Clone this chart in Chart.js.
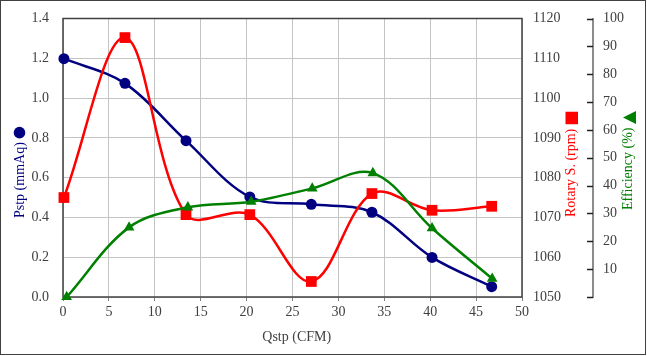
<!DOCTYPE html>
<html>
<head>
<meta charset="utf-8">
<script src="https://cdn.jsdelivr.net/npm/chart.js@4/dist/chart.umd.min.js"></script>
<style>
  html, body { margin: 0; padding: 0; background: #fff; }
  #wrap { position: relative; width: 647px; height: 356px; }
</style>
</head>
<body>
<div id="wrap"><canvas id="c"></canvas></div>
<script>
// ---- data ----
const qstp     = [0.1, 6.75, 13.4, 20.35, 27.05, 33.65, 40.2, 46.7];      // CFM (Pstp & rpm series)
const pstp     = [1.198, 1.074, 0.786, 0.503, 0.466, 0.426, 0.199, 0.052]; // mmAq
const rpm      = [1075.0, 1115.2, 1070.7, 1070.7, 1053.9, 1076.0, 1071.8, 1072.8];
const effQstp  = [0.4, 7.2, 13.6, 20.5, 27.15, 33.75, 40.2, 46.75];      // CFM (efficiency series)
const eff      = [0.0, 25.0, 32.2, 34.2, 39.0, 44.5, 24.7, 6.6];          // %
const xTicks   = [0, 50, 5];          // min, max, step
const pTicks   = [0, 1.4, 0.2];
const rpmTicks = [1050, 1120, 10];
const effTicks = [0, 100, 10];

const FONT = '"Liberation Serif", "Times New Roman", serif';
const TXT = '#404040';
const GRID = '#c4c4c4';
const NONE = 'rgba(0,0,0,0)';

const pts = (xs, ys) => xs.map((x, i) => ({ x: x, y: ys[i] }));

const decor = {
  id: 'decor',
  beforeDatasetsDraw(chart) {
    const { ctx, chartArea: a } = chart;
    ctx.save();
    ctx.strokeStyle = '#404040';
    ctx.lineWidth = 1.5;
    ctx.strokeRect(a.left, a.top, a.right - a.left, a.bottom - a.top);
    ctx.restore();
  },
  afterDraw(chart) {
    const ctx = chart.ctx;
    ctx.save();
    // outer border
    ctx.strokeStyle = '#404040';
    ctx.lineWidth = 1;
    ctx.strokeRect(0.5, 0.5, 645, 354);

    // efficiency axis tick marks (pointing left of its axis line)
    const se = chart.scales.yEff;
    ctx.strokeStyle = '#202020';
    ctx.lineWidth = 1.5;
    se.ticks.forEach(t => {
      const y = Math.round(se.getPixelForValue(t.value)) + 0.5;
      ctx.beginPath();
      ctx.moveTo(se.left - 6, y);
      ctx.lineTo(se.left, y);
      ctx.stroke();
    });

    ctx.font = '14px ' + FONT;
    ctx.textAlign = 'left';
    ctx.textBaseline = 'alphabetic';

    function vtitle(text, bx, by, color) {
      ctx.save();
      ctx.translate(bx, by);
      ctx.rotate(-Math.PI / 2);
      ctx.fillStyle = color;
      ctx.fillText(text, 0, 0);
      const w = ctx.measureText(text).width;
      ctx.restore();
      return w;
    }
    // Pstp title + circle symbol
    const w1 = vtitle('Pstp (mmAq)', 24, 218, '#000080');
    ctx.fillStyle = '#000080';
    ctx.beginPath();
    ctx.arc(19.5, 218 - w1 - 4 - 5.5, 5.8, 0, Math.PI * 2);
    ctx.fill();

    // Rotary S. title + square symbol
    const w2 = vtitle('Rotary S. (rpm)', 575, 217, '#ff0000');
    ctx.fillStyle = '#ff0000';
    const sqc = 217 - w2 - 5 - 6;
    ctx.fillRect(565.5, sqc - 6, 12.5, 12.5);

    // Efficiency title + triangle symbol (rotated with the text)
    const w3 = vtitle('Efficiency (%)', 631.5, 210, '#008000');
    ctx.fillStyle = '#008000';
    const tc = 210 - w3 - 4 - 6;
    ctx.beginPath();
    ctx.moveTo(623, tc);
    ctx.lineTo(636, tc - 6.5);
    ctx.lineTo(636, tc + 6.5);
    ctx.closePath();
    ctx.fill();

    // x title
    ctx.fillStyle = TXT;
    ctx.textAlign = 'center';
    ctx.fillText('Qstp (CFM)', 296.7, 341);
    ctx.restore();
  }
};

const common = { borderWidth: 2.5, tension: 0.35, fill: false, clip: false };

new Chart(document.getElementById('c'), {
  type: 'line',
  data: {
    datasets: [
      Object.assign({
        label: 'Efficiency',
        data: pts(effQstp, eff),
        yAxisID: 'yEff',
        borderColor: '#008000', backgroundColor: '#008000',
        pointStyle: 'triangle', pointRadius: 6.2, pointBorderWidth: 0,
        order: 0
      }, common),
      Object.assign({
        label: 'Rotary S.',
        data: pts(qstp, rpm),
        yAxisID: 'yRpm',
        borderColor: '#ff0000', backgroundColor: '#ff0000',
        pointStyle: 'rect', pointRadius: 7.6, pointBorderWidth: 0,
        order: 1
      }, common),
      Object.assign({
        label: 'Pstp',
        data: pts(qstp, pstp),
        yAxisID: 'y',
        borderColor: '#000080', backgroundColor: '#000080',
        pointStyle: 'circle', pointRadius: 5.5, pointBorderWidth: 0,
        order: 2
      }, common)
    ]
  },
  options: {
    responsive: true,
    maintainAspectRatio: false,
    animation: false,
    events: [],
    layout: { padding: { top: 18.5, bottom: 0, left: 0, right: 0 } },
    plugins: { legend: { display: false }, tooltip: { enabled: false } },
    scales: {
      x: {
        type: 'linear', position: 'bottom',
        min: xTicks[0], max: xTicks[1],
        ticks: { stepSize: xTicks[2], color: TXT, font: { family: FONT, size: 14 }, padding: 3, maxRotation: 0 },
        grid: { color: GRID, lineWidth: 1, drawTicks: true, tickLength: 4, tickColor: '#808080' },
        border: { display: false },
        afterFit: s => { s.height = 59; }
      },
      y: {
        type: 'linear', position: 'left',
        min: pTicks[0], max: pTicks[1],
        ticks: { stepSize: pTicks[2], color: TXT, font: { family: FONT, size: 14 }, padding: 4,
                 callback: v => Number(v).toFixed(1) },
        grid: { color: GRID, lineWidth: 1, drawTicks: true, tickLength: 10, tickColor: NONE },
        border: { display: false },
        afterFit: s => { s.width = 63; }
      },
      yRpm: {
        type: 'linear', position: 'right', weight: 0,
        min: rpmTicks[0], max: rpmTicks[1],
        ticks: { stepSize: rpmTicks[2], color: TXT, font: { family: FONT, size: 14 }, padding: 4,
                 callback: v => String(v) },
        grid: { drawOnChartArea: false, drawTicks: true, tickLength: 7, tickColor: NONE },
        border: { display: false },
        afterFit: s => { s.width = 71; }
      },
      yEff: {
        type: 'linear', position: 'right', weight: 1,
        min: effTicks[0], max: effTicks[1],
        ticks: { stepSize: effTicks[2], color: TXT, font: { family: FONT, size: 14 }, padding: 4,
                 callback: v => (v === 0 ? '' : String(v)) },
        grid: { drawOnChartArea: false, drawTicks: true, tickLength: 6, tickColor: NONE },
        border: { display: true, color: '#8c8c8c', width: 2 },
        afterFit: s => { s.width = 54; }
      }
    }
  },
  plugins: [decor]
});
</script>
</body>
</html>
